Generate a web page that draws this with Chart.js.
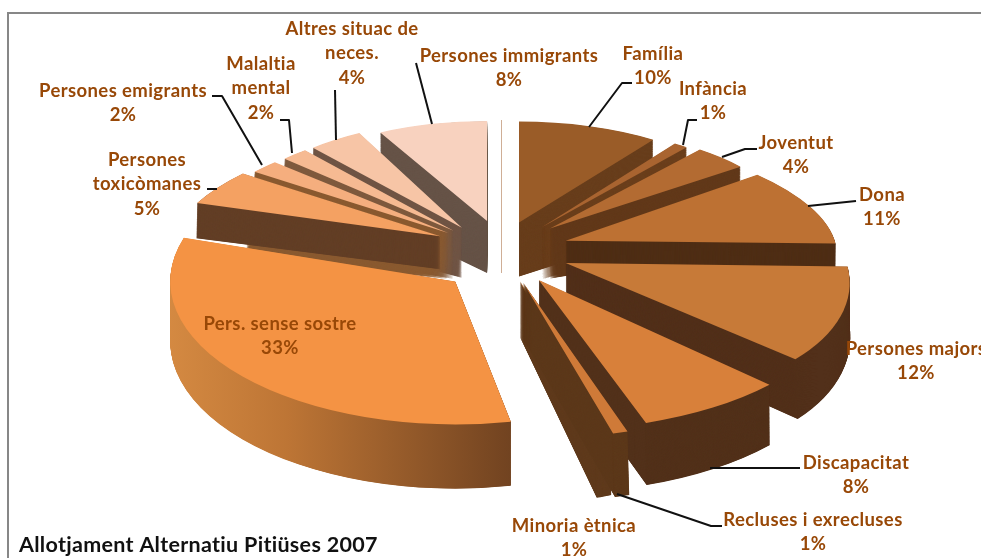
<!DOCTYPE html>
<html><head><meta charset="utf-8">
<style>
html,body{margin:0;padding:0;background:#fff;overflow:hidden}
#wrap{position:relative;width:981px;height:558px}
#frame{position:absolute;left:7px;top:12px;width:980px;height:560px;border-left:2px solid #878787;border-top:2px solid #878787}
canvas{position:absolute;left:0;top:0;display:block}
</style>
<script src="https://cdn.jsdelivr.net/npm/chart.js@4"></script>
</head><body>
<div id="wrap"><div id="frame"></div><canvas id="c" width="981" height="558"></canvas></div>
<script>
// ---- data ----
const categories = ['Família','Infància','Joventut','Dona','Persones majors','Discapacitat','Minoria ètnica','Recluses i exrecluses','Pers. sense sostre','Persones toxicòmanes','Persones emigrants','Malaltia mental','Altres situac de neces.','Persones immigrants'];
const values = [9.6,1,3.8,10.8,11.8,7.7,0.9,0.9,32.8,4.8,1.8,1.8,3.8,7.7];
const chartTitle = 'Allotjament Alternatiu Pitiüses 2007';

// ---- style ----
const faceColors = ['#9a5c28','#a96430','#b36b32','#bd7133','#c77a38','#d8803a','#e78a3c','#cf7a38','#f49344','#f4a162','#f5ae7e','#f6ba92','#f7c5a6','#f8d2bf'];
const wallColors = ['#683e1c','#6b3f1c','#62391a','#4f2e15','#52301a','#52311a','#5f3a1c','#5c381a',null,'#633f26','#8a5a30','#7f5a3e','#705545','#665347'];
const textColor = '#984807';
const labelFont = 'bold 18.5px Lato, "Open Sans", sans-serif';
// projection of the tilted pie: one affine approximation per slice
const pieCenter = [503,250];
const radiusX = [235,233,241,269,281,309,268,268,285,267,255,240,231,228];
const radiusY = [101,102,101,108,138,150,158,154,143,109,106,108,107,100];
const shear   = [0,0,0,.32,.296,.09,.06,.25,0,-.33,-.24,-.14,-.06,0];
const pull    = [53.5,65,66,66,68,68,61,90,64,70,70,70,72,66];
const lift    = [-5.5,0,-2,-1,0,2,-3.5,-18,10,-1,1,3,5,-1];
const depth   = [54,52,50,52,52,55,56,56,60,33,46,48,50,52];
const spread  = [.52,.52,.5,.6,1.08,1.05,1.05,1.05,1.03,.93,.38,.4,.49,.58];
// label placement: centre x, first-line y, line texts without the percentage
const labelPos = [[653,54],[713,89],[796,143],[882,195],[916,349],[856,463],[574,526],[813,520],[280,324],[147,160],[123,91],[261,64],[352,29],[509,56]];
const labelLines = [['Família'],['Infància'],['Joventut'],['Dona'],['Persones majors'],['Discapacitat'],['Minoria ètnica'],['Recluses i exrecluses'],['Pers. sense sostre'],['Persones','toxicòmanes'],['Persones emigrants'],['Malaltia','mental'],['Altres situac de','neces.'],['Persones immigrants']];
const leaders = [
 [[212,96],[222,96],[262,165]],
 [[280,120],[289,120],[292,153]],
 [[335,90],[336,140]],
 [[416,63],[432,124]],
 [[632,83],[622,83],[589,127]],
 [[697,120],[688,120],[683,145]],
 [[757,149],[745,149],[722,157]],
 [[856,201],[808,206]],
 [[800,468],[710,468]],
 [[722,526],[711,526],[617,494]],
 [[207,189],[217,189]]
];
const LINE_H = 24.5;

const pie3d = {
  id:'pie3d',
  beforeDatasetDraw(chart){
    const ctx = chart.ctx, arcs = chart.getDatasetMeta(0).data;
    ctx.save();ctx.strokeStyle='#cfae96';ctx.lineWidth=1;ctx.beginPath();ctx.moveTo(501.5,120);ctx.lineTo(501.5,273);ctx.stroke();ctx.restore();
    const mid = a => (a.startAngle+a.endAngle)/2+Math.PI/2;
    const order = arcs.map((a,i)=>i).sort((p,q)=>Math.cos(mid(arcs[q]))-Math.cos(mid(arcs[p])));
    order.forEach(i=>{
      const arc = arcs[i], m = mid(arc), base = arc.options;
      const sx = radiusX[i]/arc.outerRadius, sy = radiusY[i]/arc.outerRadius;
      const ax = pieCenter[0]+pull[i]*Math.sin(m);
      const ay = pieCenter[1]-pull[i]*Math.cos(m)*radiusY[i]/radiusX[i]+lift[i];
      let wall = wallColors[i];
      if(!wall){
        const u = x => arc.x+(x-ax)/sx;
        wall = ctx.createLinearGradient(u(165),0,u(515),0);
        wall.addColorStop(0,'#d58a42');wall.addColorStop(.35,'#bd7535');wall.addColorStop(1,'#704220');
      }
      const layer = (t,color)=>{
        arc.options = Object.assign({},base,{backgroundColor:color,borderWidth:0,offset:0});
        ctx.save();
        ctx.translate(ax,ay+depth[i]*t);
        ctx.transform(1,0,shear[i],1,0,0);
        ctx.scale(sx,sy*(1+(spread[i]-1)*t));
        ctx.translate(-arc.x,-arc.y);
        arc.draw(ctx);
        ctx.restore();
      };
      const steps = depth[i]*3;
      for(let d=steps;d>0;d--) layer(d/steps,wall);
      layer(0,faceColors[i]);
      arc.options = base;
    });
    return false;
  },
  afterDraw(chart){
    const ctx = chart.ctx, total = values.reduce((a,b)=>a+b,0);
    ctx.save();
    ctx.strokeStyle='#111';ctx.lineWidth=2;ctx.lineJoin='round';
    leaders.forEach(l=>{ctx.beginPath();l.forEach((p,k)=>k?ctx.lineTo(p[0],p[1]):ctx.moveTo(p[0],p[1]));ctx.stroke();});
    ctx.font=labelFont;ctx.fillStyle=textColor;ctx.textAlign='center';ctx.textBaseline='middle';
    if('letterSpacing' in ctx) ctx.letterSpacing='0.4px';
    values.forEach((v,i)=>{
      const lines = labelLines[i].concat(Math.round(v/total*100)+'%');
      lines.forEach((s,k)=>ctx.fillText(s,labelPos[i][0],labelPos[i][1]+k*LINE_H));
    });
    ctx.font='bold 21.5px Lato, "Open Sans", sans-serif';ctx.fillStyle='#111';ctx.textAlign='left';
    if('letterSpacing' in ctx) ctx.letterSpacing='0.3px';
    ctx.fillText(chartTitle,19,545);
    ctx.restore();
  }
};

new Chart(document.getElementById('c'),{
  type:'pie',
  data:{labels:categories,datasets:[{data:values,backgroundColor:faceColors,borderWidth:0}]},
  options:{responsive:false,animation:false,layout:{padding:0},plugins:{legend:{display:false},tooltip:{enabled:false},title:{display:false}}},
  plugins:[pie3d]
});
</script>
</body></html>
